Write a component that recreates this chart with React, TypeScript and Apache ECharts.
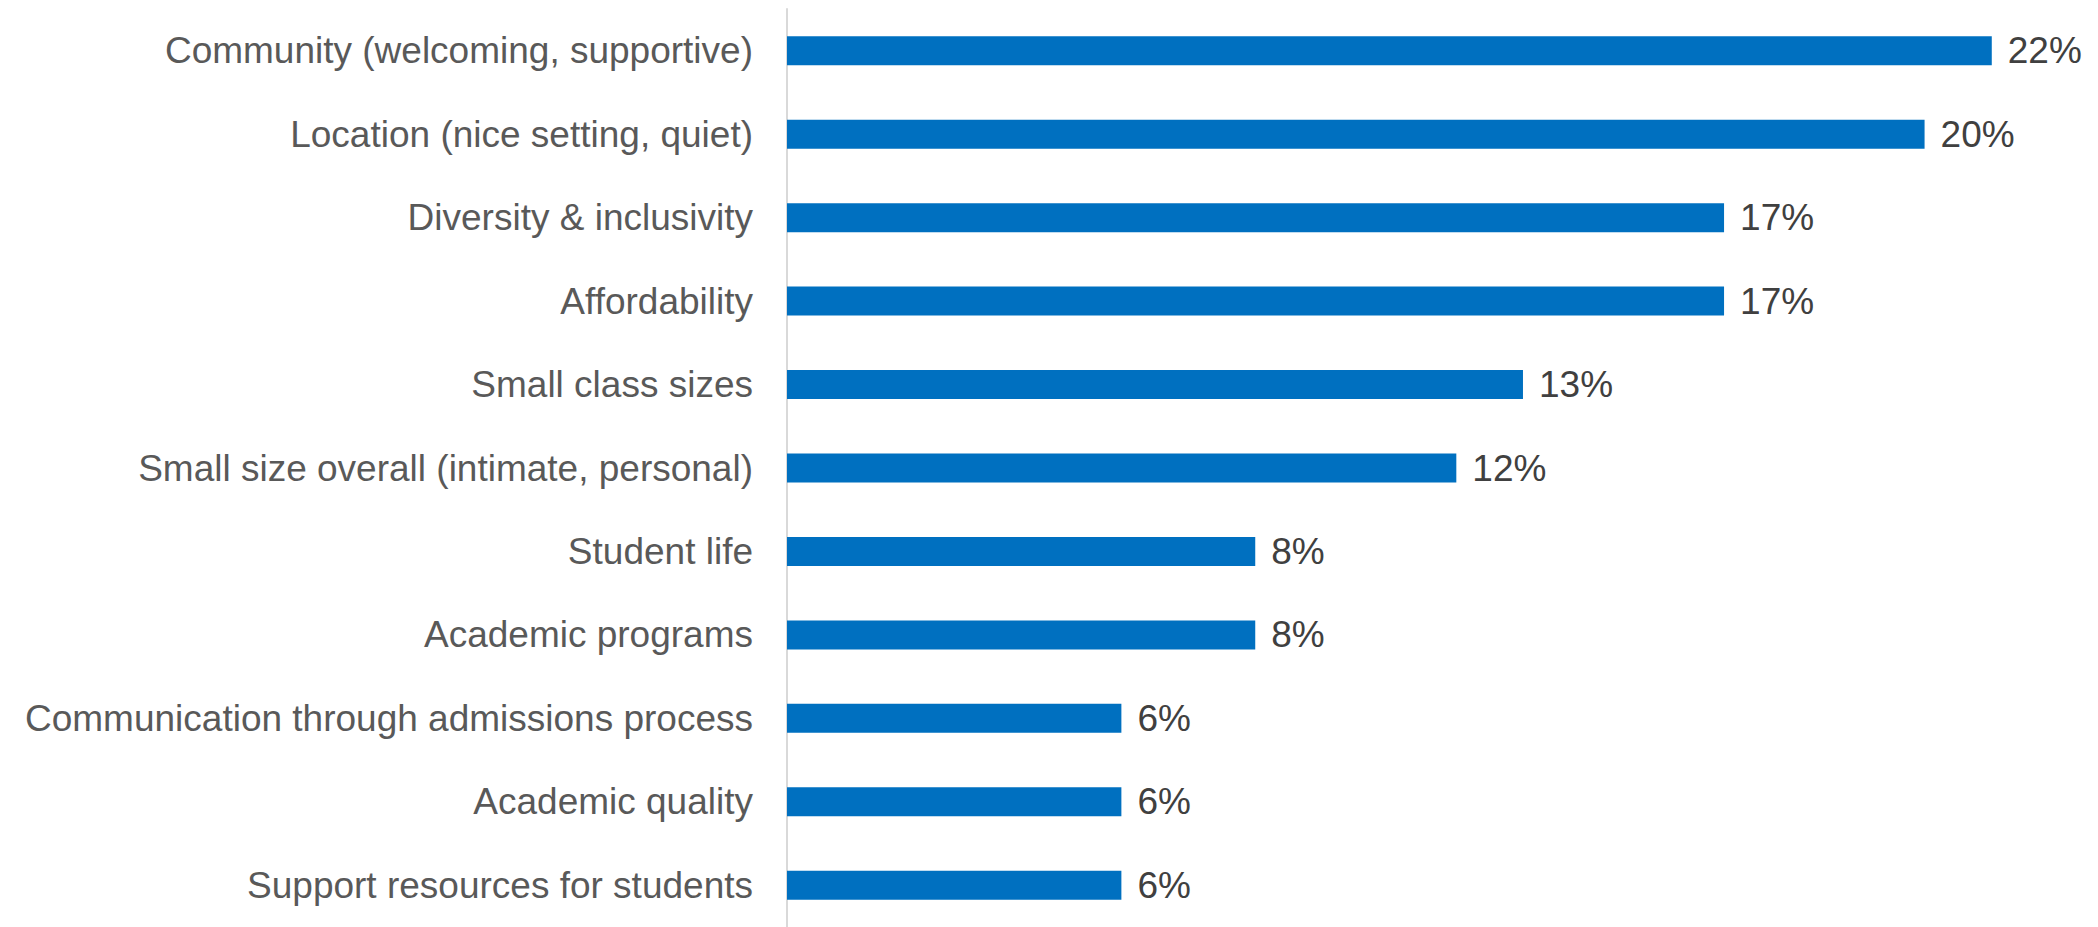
import React, { useEffect, useRef } from "react";
import * as echarts from "echarts";

const categories = [
  "Community (welcoming, supportive)",
  "Location (nice setting, quiet)",
  "Diversity & inclusivity",
  "Affordability",
  "Small class sizes",
  "Small size overall (intimate, personal)",
  "Student life",
  "Academic programs",
  "Communication through admissions process",
  "Academic quality",
  "Support resources for students",
];

// Percent values (labels shown rounded)
const values = [21.69, 20.48, 16.87, 16.87, 13.25, 12.05, 8.43, 8.43, 6.02, 6.02, 6.02];

export default function App() {
  const ref = useRef<HTMLDivElement>(null);
  useEffect(() => {
    if (!ref.current) return;
    const chart = echarts.init(ref.current, undefined, { renderer: "svg" });
    const font = "'Liberation Sans', Arial, sans-serif";
    chart.setOption({
      animation: false,
      backgroundColor: "#ffffff",
      grid: { left: 787, right: 89, top: 9, bottom: 0, containLabel: false },
      xAxis: {
        type: "value",
        min: 0,
        max: 22,
        show: false,
        splitLine: { show: false },
      },
      yAxis: {
        type: "category",
        inverse: true,
        data: categories,
        axisLine: { show: true, lineStyle: { color: "#d9d9d9", width: 2 } },
        axisTick: { show: false },
        axisLabel: {
          margin: 34,
          fontSize: 37,
          color: "#595959",
          fontFamily: font,
        },
      },
      series: [
        {
          type: "bar",
          data: values,
          barWidth: 29,
          itemStyle: { color: "#0070C0" },
          label: {
            show: true,
            position: "right",
            distance: 16,
            fontSize: 37,
            color: "#404040",
            fontFamily: font,
            formatter: (p: any) => Math.round(p.value) + "%",
          },
        },
      ],
    });
    return () => chart.dispose();
  }, []);
  return (
    <div
      ref={ref}
      style={{ position: "absolute", left: 0, top: 0, width: 2098, height: 927 }}
    />
  );
}
